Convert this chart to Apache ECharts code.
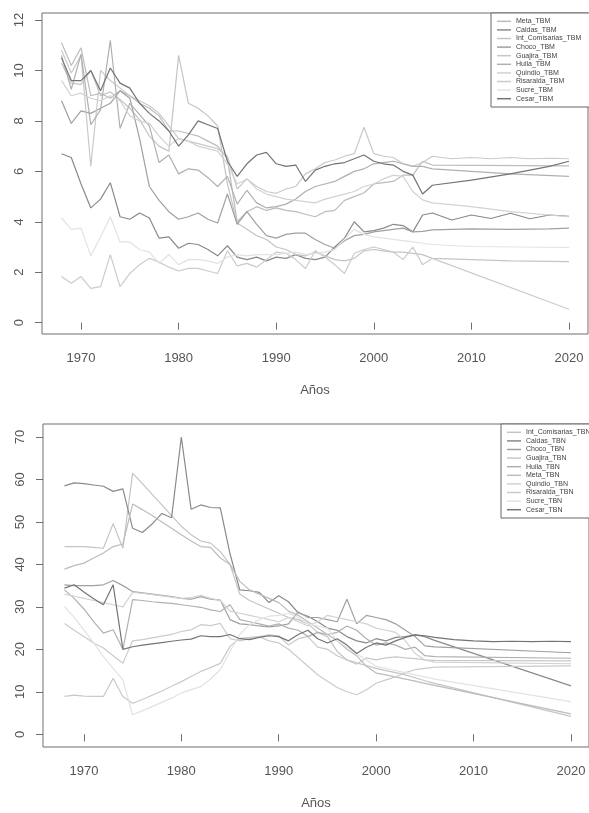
<!DOCTYPE html>
<html>
<head>
<meta charset="utf-8">
<script src="https://cdn.jsdelivr.net/npm/echarts@6/dist/echarts.min.js"></script>
<style>
  html, body { margin: 0; padding: 0; background: #fff; }
  #chart { width: 589px; height: 813px; }
</style>
</head>
<body>
<div id="chart"></div>
<script>
// años: anual hasta 2006, luego cada dos años
var years = [1968,1969,1970,1971,1972,1973,1974,1975,1976,1977,1978,1979,1980,1981,1982,1983,1984,1985,1986,1987,
  1988,1989,1990,1991,1992,1993,1994,1995,1996,1997,1998,1999,2000,2001,2002,2003,2004,2005,2006,
  2008,2010,2012,2014,2016,2018,2020];

var xTicks = [1970, 1980, 1990, 2000, 2010, 2020];
var yTicksTBM = [0, 2, 4, 6, 8, 10, 12];
var yTicksTBN = [0, 10, 20, 30, 40, 50, 60, 70];

// --- TBM ---
var namesTBM = ['Meta_TBM','Caldas_TBM','Int_Comisarias_TBM','Choco_TBM','Guajira_TBM','Huila_TBM','Quindio_TBM','Risaralda_TBM','Sucre_TBM','Cesar_TBM'];
var metaTBM = [11.1,10.2,10.9,9.0,9.1,8.9,9.2,9.0,8.7,8.5,8.2,7.6,7.6,7.5,7.4,7.2,7.0,6.5,4.0,4.4,4.6,4.45,4.55,4.45,4.4,4.3,4.2,4.4,4.45,4.85,5.0,5.15,5.5,5.55,5.6,5.85,5.85,6.4,6.25, null,null,null,null,null,null,6.22];
var caldasTBM = [6.7,6.55,5.5,4.55,4.9,5.55,4.2,4.1,4.35,4.15,3.35,3.4,2.95,3.15,3.1,2.9,2.65,3.05,2.6,2.5,2.6,2.45,2.6,2.55,2.7,2.55,2.5,2.6,3.0,3.35,4.0,3.6,3.65,3.75,3.9,3.85,3.6,4.27,4.35, 4.07,4.27,4.13,4.34,4.12,4.27,4.22];
var intTBM = [10.3,9.5,9.45,10.0,9.0,9.15,8.85,8.5,8.05,7.4,7.0,6.8,10.6,8.7,8.5,8.2,7.8,5.5,3.95,3.7,3.45,3.3,3.0,2.9,2.7,2.65,2.8,2.65,2.5,2.45,2.55,2.85,2.9,2.85,2.8,2.8,2.75,2.7,2.55, null,2.5,null,2.45,null,null,2.42];
var chocoTBM = [8.8,7.9,8.4,8.3,8.5,8.7,9.2,8.9,7.3,5.4,4.85,4.4,4.1,4.2,4.35,4.1,3.95,5.1,3.9,4.4,3.9,3.45,3.35,3.5,3.55,3.55,3.3,3.1,2.95,3.25,3.45,3.5,3.6,3.65,3.7,3.75,3.6,3.62,3.68, null,3.72,null,3.7,null,3.72,3.75];
var guajiraTBM = [10.8,9.9,10.6,6.2,10.0,9.6,9.3,9.0,8.8,8.6,8.3,7.8,7.3,7.2,7.1,7.0,6.9,6.6,5.3,5.7,5.4,5.2,5.13,5.3,5.4,5.9,6.1,6.35,6.45,6.6,6.7,7.75,6.7,6.6,6.55,6.3,6.2,6.35,6.6, 6.5,6.55,6.5,6.55,6.5,6.52,6.5];
var huilaTBM = [10.6,9.25,10.65,7.85,8.45,11.2,7.7,8.7,8.25,7.8,6.35,6.65,5.9,6.1,6.05,5.75,5.4,5.8,4.7,5.25,4.75,4.55,4.6,4.7,4.9,5.2,5.4,5.5,5.6,5.8,6.0,6.1,6.3,6.35,6.4,6.3,6.2,6.2,6.1, null,6.0,null,5.9,null,null,5.8];
var quindioTBM = [9.6,9.0,9.1,8.9,8.8,9.0,8.8,8.2,8.0,7.9,7.4,7.0,7.3,7.2,7.0,6.9,6.8,6.3,5.5,5.7,5.3,5.1,5.0,4.9,4.85,4.8,4.75,4.9,5.0,5.1,5.2,5.4,5.5,5.7,5.85,5.8,5.2,4.87,4.75, null,4.6,null,4.4,null,null,4.2];
var risaraldaTBM = [1.83,1.56,1.83,1.36,1.43,2.7,1.43,1.95,2.3,2.55,2.4,2.2,2.05,2.15,2.15,2.05,1.95,2.85,2.25,2.35,2.2,2.5,2.8,2.75,2.5,2.15,2.85,2.6,2.3,1.95,2.75,2.9,3.0,2.9,2.8,2.5,3.0,2.3,2.55, null,null,null,null,null,null,0.53];
var sucreTBM = [4.15,3.7,3.75,2.65,3.4,4.2,3.2,3.2,2.9,2.8,2.35,2.7,2.3,2.5,2.5,2.45,2.35,2.6,2.7,2.65,2.7,2.7,2.7,2.75,2.8,2.7,2.75,2.8,2.9,3.3,3.7,3.5,3.4,3.35,3.3,3.25,3.2,3.15,3.1, null,3.02,null,null,null,null,2.98];
var cesarTBM = [10.5,9.6,9.6,10.0,9.2,10.1,9.5,9.3,8.7,8.3,8.0,7.6,7.0,7.45,8.0,7.85,7.7,6.4,5.8,6.3,6.65,6.75,6.3,6.2,6.25,5.6,6.05,6.2,6.3,6.35,6.5,6.65,6.4,6.3,6.25,6.0,5.85,5.1,5.45, null,5.65,null,5.9,null,6.2,6.4];

// --- TBN ---
var namesTBN = ['Int_Comisarias_TBN','Caldas_TBN','Choco_TBN','Guajira_TBN','Huila_TBN','Meta_TBN','Quindio_TBN','Risaralda_TBN','Sucre_TBN','Cesar_TBN'];
var intTBN = [44.2,44.2,44.2,44.0,43.8,49.6,43.8,61.5,59.0,56.5,54.0,51.5,49.0,47.0,45.5,45.0,43.0,40.0,33.0,31.5,30.5,29.5,28.5,27.5,27.0,26.0,24.0,23.0,19.5,17.5,16.8,16.2,15.5,15.0,14.5,14.0,13.3,12.6,12.0, null,null,null,null,null,null,4.2];
var caldasTBN = [58.5,59.2,59.0,58.7,58.4,57.2,57.8,48.5,47.5,49.5,52.0,51.0,70.0,53.0,54.0,53.4,53.3,42.5,34.0,33.8,33.4,31.0,32.6,31.2,28.6,27.8,26.5,25.0,24.5,23.0,22.0,21.5,22.5,22.0,22.8,23.0,23.4,23.0,22.1, null,null,null,null,null,null,11.4];
var chocoTBN = [35.2,35.0,35.0,35.0,35.2,36.2,35.0,33.6,33.3,33.0,32.7,32.4,32.0,31.8,32.4,31.8,31.6,27.0,26.0,25.8,25.5,25.3,25.5,26.0,28.8,27.5,27.5,27.0,26.5,31.8,26.0,28.0,27.5,27.0,26.0,24.5,23.0,20.8,20.6, null,null,null,null,null,null,19.2];
var guajiraTBN = [8.9,9.2,9.0,8.9,8.9,13.2,8.9,7.3,8.2,9.2,10.2,11.3,12.4,13.6,14.8,15.7,16.7,20.7,22.6,22.8,23.0,23.4,23.2,21.0,22.5,23.0,20.5,20.0,18.5,17.5,16.5,18.0,17.5,18.0,18.2,18.0,17.8,17.5,17.4, null,null,null,null,null,null,17.3];
var huilaTBN = [34.0,32.0,29.5,26.5,23.8,24.6,20.0,31.7,31.5,31.2,31.0,30.8,30.5,30.2,29.9,29.3,28.9,30.5,27.0,26.5,26.0,25.5,26.0,25.0,24.5,23.0,24.0,23.5,24.0,25.5,24.5,22.5,21.0,21.5,21.0,20.0,20.5,18.5,18.3, null,null,null,null,null,null,17.9];
var metaTBN = [38.9,39.7,40.3,41.5,42.7,44.2,44.8,54.2,52.9,51.5,50.0,48.5,47.0,45.5,44.2,44.0,41.5,40.0,36.0,34.0,33.0,32.0,31.0,29.0,28.0,26.5,25.0,23.5,22.0,20.0,18.5,16.0,14.4,14.0,13.5,13.0,12.5,12.0,11.5, null,null,null,null,null,null,4.8];
var quindioTBN = [33.0,32.5,32.0,31.5,31.0,30.5,30.0,33.4,33.2,32.9,32.6,32.3,32.0,32.2,32.7,32.0,31.5,29.0,28.5,28.0,27.5,27.0,26.5,27.5,26.5,25.5,26.5,28.0,27.5,27.0,26.5,26.0,25.0,24.5,24.0,22.0,19.0,17.5,17.0, null,null,null,null,null,null,16.6];
var risaraldaTBN = [26.1,24.5,23.0,21.5,20.3,18.5,16.7,22.0,22.3,22.7,23.1,23.5,24.2,24.6,25.8,25.6,26.1,22.5,22.0,22.5,23.0,22.0,21.5,20.0,18.0,16.0,14.0,12.5,11.0,10.0,9.3,10.5,12.0,12.8,13.5,14.5,15.2,15.5,15.8, null,null,null,null,null,null,16.1];
var sucreTBN = [30.1,27.5,24.6,21.5,18.3,15.5,12.8,4.6,5.5,6.5,7.5,8.5,9.7,10.5,11.2,13.0,15.2,19.5,23.5,25.8,27.0,27.8,28.0,28.5,27.5,26.0,25.5,25.0,22.0,20.5,19.0,17.5,16.0,15.5,15.0,14.5,14.0,13.5,13.0, null,null,null,null,null,null,7.7];
var cesarTBN = [34.4,35.2,33.5,31.9,30.5,35.2,20.0,20.6,21.0,21.3,21.6,21.9,22.2,22.4,23.2,23.0,23.0,23.5,22.5,22.3,22.8,23.2,23.0,22.0,23.5,24.5,22.5,21.5,22.5,21.0,19.0,20.5,21.5,21.0,22.0,22.8,23.4,23.2,22.8, 22.3,22.0,21.8,21.9,21.8,21.9,21.8];

// tonos de gris por departamento
var grays = {
  Meta: '#bcbcbc', Caldas: '#8a8a8a', Int_Comisarias: '#c4c4c4', Choco: '#a0a0a0', Guajira: '#c9c9c9',
  Huila: '#b0b0b0', Quindio: '#d2d2d2', Risaralda: '#cbcbcb', Sucre: '#e2e2e2', Cesar: '#747474'
};

var valuesTBM = [metaTBM, caldasTBM, intTBM, chocoTBM, guajiraTBM, huilaTBM, quindioTBM, risaraldaTBM, sucreTBM, cesarTBM];
var valuesTBN = [intTBN, caldasTBN, chocoTBN, guajiraTBN, huilaTBN, metaTBN, quindioTBN, risaraldaTBN, sucreTBN, cesarTBN];

function makeSeries(names, values, idx) {
  return names.map(function (name, i) {
    var dept = name.replace(/_TB[MN]$/, '');
    var pts = [];
    years.forEach(function (y, k) {
      if (values[i][k] !== null) pts.push([y, values[i][k]]);
    });
    return {
      name: name,
      type: 'line',
      xAxisIndex: idx,
      yAxisIndex: idx,
      data: pts,
      symbol: 'none',
      showSymbol: false,
      color: grays[dept],
      lineStyle: { width: 1.2, color: grays[dept] },
      emphasis: { disabled: true },
      z: 2 + i
    };
  });
}

var axisGray = '#6e6e6e';
var labelGray = '#555';
var font = 'Liberation Sans, Arial, sans-serif';

function xAxisOf(idx, min, max) {
  return {
    gridIndex: idx, type: 'value', min: min, max: max,
    axisLine: { show: false },
    axisTick: { show: true, length: 7, lineStyle: { color: axisGray }, customValues: xTicks },
    axisLabel: {
      customValues: xTicks, color: labelGray, fontSize: 13, margin: 18, fontFamily: font,
      formatter: function (v) { return String(v); }
    },
    splitLine: { show: false },
    name: 'Años', nameLocation: 'middle', nameGap: 50,
    nameTextStyle: { color: labelGray, fontSize: 13, fontFamily: font }
  };
}

function yAxisOf(idx, min, max, ticks) {
  return {
    gridIndex: idx, type: 'value', min: min, max: max,
    axisLine: { show: false },
    axisTick: { show: true, length: 7, lineStyle: { color: axisGray }, customValues: ticks },
    axisLabel: { customValues: ticks, color: labelGray, fontSize: 13, rotate: 90, margin: 16, fontFamily: font },
    splitLine: { show: false }
  };
}

function legendOf(names, left, top) {
  return {
    data: names, orient: 'vertical', left: left, top: top,
    padding: [4, 12, 4, 6], itemGap: 0, itemWidth: 14, itemHeight: 1.5, icon: 'rect',
    selectedMode: false,
    textStyle: { fontSize: 7, lineHeight: 8.6, color: '#444', fontFamily: font },
    borderColor: '#666', borderWidth: 1, backgroundColor: '#fff'
  };
}

var chart = echarts.init(document.getElementById('chart'));
chart.setOption({
  animation: false,
  textStyle: { fontFamily: font },
  grid: [
    { left: 42, top: 13, width: 546, height: 321, show: true, borderColor: axisGray, borderWidth: 1, backgroundColor: 'transparent' },
    { left: 43, top: 424, width: 546, height: 323, show: true, borderColor: axisGray, borderWidth: 1, backgroundColor: 'transparent' }
  ],
  xAxis: [ xAxisOf(0, 1966.0, 2021.95), xAxisOf(1, 1965.8, 2021.85) ],
  yAxis: [ yAxisOf(0, -0.45, 12.28, yTicksTBM), yAxisOf(1, -3.0, 73.06, yTicksTBN) ],
  legend: [ legendOf(namesTBM, 491, 13), legendOf(namesTBN, 501, 424) ],
  series: makeSeries(namesTBM, valuesTBM, 0).concat(makeSeries(namesTBN, valuesTBN, 1))
});
</script>
</body>
</html>
